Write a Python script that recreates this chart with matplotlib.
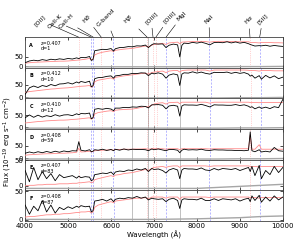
import numpy as np
import matplotlib.pyplot as plt

# observed wavelength grid (Angstrom)
wave = [4000, 4100, 4200, 4300, 4400, 4500, 4600, 4700, 4800, 4900,
        5000, 5100, 5200, 5250, 5300, 5400, 5500, 5540, 5580, 5620,
        5700, 5800, 5900, 6000, 6060, 6100, 6200, 6300, 6400, 6500,
        6600, 6700, 6800, 6870, 6950, 7000, 7100, 7200, 7280, 7350,
        7450, 7550, 7600, 7650, 7700, 7800, 7900, 8000, 8100, 8200,
        8300, 8400, 8500, 8600, 8700, 8800, 8900, 9000, 9100, 9200,
        9240, 9280, 9350, 9450, 9500, 9600, 9700, 9800, 9900, 10000]

flux_a = [18, 27, 31, 28, 34, 30, 36, 33, 38, 35,
          40, 37, 43, 39, 45, 44, 50, 30, 34, 80,
          83, 87, 86, 91, 78, 90, 96, 97, 101, 100,
          105, 104, 109, 96, 111, 116, 114, 115, 96, 108,
          114, 110, 48, 108, 119, 117, 123, 119, 124, 118,
          110, 122, 123, 121, 126, 120, 125, 119, 123, 116,
          112, 109, 104, 106, 105, 108, 103, 107, 104, 102]
model_a = [16, 18, 20, 21, 22, 23, 24, 25, 26, 26,
           27, 29, 31, 32, 33, 36, 40, 32, 36, 58,
           66, 72, 76, 80, 76, 82, 85, 88, 90, 92,
           96, 100, 104, 100, 108, 112, 115, 118, 112, 120,
           122, 124, 116, 124, 125, 126, 127, 127, 128, 127,
           124, 127, 128, 128, 128, 127, 127, 126, 126, 126,
           123, 122, 122, 120, 122, 122, 122, 121, 121, 120]

flux_b = [12, 38, 45, 39, 47, 43, 51, 46, 53, 54,
          58, 53, 61, 57, 63, 59, 64, 42, 46, 74,
          78, 79, 83, 85, 76, 85, 87, 91, 91, 95,
          94, 97, 96, 86, 96, 93, 97, 92, 76, 88,
          93, 89, 47, 92, 97, 96, 101, 96, 100, 95,
          92, 99, 98, 98, 100, 95, 99, 95, 98, 92,
          84, 88, 76, 86, 72, 87, 77, 85, 74, 80]
model_b = [20, 23, 25, 27, 29, 31, 33, 34, 36, 37,
           38, 40, 42, 43, 44, 45, 47, 40, 44, 62,
           68, 71, 74, 77, 72, 79, 82, 85, 87, 89,
           92, 94, 96, 92, 98, 100, 102, 104, 98, 104,
           106, 106, 100, 106, 107, 108, 108, 108, 108, 108,
           104, 108, 108, 108, 108, 108, 108, 108, 108, 107,
           106, 106, 106, 104, 106, 106, 106, 105, 105, 105]

flux_c = [40, 52, 42, 51, 43, 49, 45, 53, 47, 52,
          53, 49, 57, 53, 58, 57, 60, 36, 40, 76,
          79, 76, 80, 77, 70, 81, 81, 84, 83, 86,
          85, 89, 88, 82, 95, 95, 96, 93, 78, 90,
          93, 89, 47, 90, 95, 94, 94, 93, 97, 92,
          86, 95, 94, 94, 93, 93, 96, 92, 95, 89,
          84, 87, 78, 86, 80, 85, 79, 87, 83, 118]
model_c = [18, 20, 22, 24, 25, 27, 28, 29, 30, 30,
           31, 33, 34, 35, 36, 38, 40, 34, 38, 56,
           62, 65, 68, 70, 66, 72, 74, 75, 76, 77,
           80, 84, 88, 86, 94, 98, 102, 104, 98, 104,
           105, 106, 100, 106, 106, 106, 106, 106, 106, 106,
           102, 106, 106, 106, 106, 106, 106, 106, 106, 106,
           105, 105, 105, 104, 105, 105, 105, 105, 105, 105]

flux_d = [20, 25, 21, 26, 22, 27, 23, 28, 24, 29,
          26, 30, 29, 66, 32, 29, 34, 26, 28, 34,
          32, 36, 31, 35, 30, 36, 32, 37, 33, 36,
          35, 35, 34, 30, 37, 34, 37, 33, 30, 35,
          35, 32, 22, 32, 36, 33, 34, 33, 36, 32,
          31, 34, 33, 33, 32, 32, 31, 31, 30, 32,
          105, 30, 26, 34, 25, 28, 25, 43, 30, 28]
model_d = [12, 14, 15, 16, 17, 18, 18, 19, 20, 20,
           21, 22, 24, 40, 25, 26, 28, 25, 27, 30,
           31, 32, 33, 34, 32, 35, 35, 36, 36, 36,
           37, 37, 38, 36, 38, 38, 38, 38, 36, 38,
           38, 38, 34, 38, 38, 38, 38, 38, 38, 38,
           37, 38, 38, 38, 38, 38, 38, 38, 38, 38,
           92, 36, 36, 54, 36, 36, 36, 36, 36, 36]

flux_e = [30, 8, 36, 12, 28, 14, 24, 10, 22, 16,
          18, 20, 15, 19, 16, 18, 17, 10, 12, 22,
          23, 25, 24, 27, 22, 27, 29, 28, 31, 30,
          33, 31, 34, 28, 34, 32, 33, 30, 25, 31,
          34, 31, 14, 31, 34, 33, 33, 32, 35, 31,
          30, 34, 31, 34, 33, 32, 34, 30, 33, 36,
          28, 38, 20, 40, 14, 30, 22, 38, 26, 36]
model_e = [0, 1, 1, 2, 2, 3, 3, 3, 4, 4,
           4, 5, 5, 6, 6, 7, 8, 6, 7, 12,
           14, 16, 18, 20, 18, 21, 22, 24, 25, 26,
           28, 30, 32, 30, 34, 36, 37, 38, 36, 38,
           39, 39, 36, 39, 39, 39, 39, 39, 39, 39,
           38, 39, 39, 39, 39, 39, 39, 39, 39, 39,
           38, 38, 38, 37, 38, 38, 38, 38, 38, 38]

flux_f = [26, 10, 24, 16, 34, 14, 26, 12, 22, 18,
          23, 20, 24, 22, 25, 23, 24, 14, 16, 33,
          34, 36, 33, 37, 32, 36, 38, 37, 39, 38,
          41, 38, 40, 35, 38, 37, 36, 37, 32, 36,
          38, 34, 20, 35, 37, 36, 36, 35, 38, 34,
          34, 37, 34, 37, 36, 35, 37, 33, 36, 38,
          32, 42, 34, 43, 31, 40, 33, 42, 35, 40]
model_f = [5, 6, 6, 7, 8, 9, 9, 10, 10, 11,
           11, 12, 13, 13, 14, 14, 15, 12, 14, 22,
           26, 28, 30, 32, 30, 33, 34, 35, 36, 37,
           38, 38, 39, 37, 40, 40, 40, 40, 38, 40,
           40, 40, 36, 40, 40, 40, 40, 40, 40, 40,
           39, 40, 40, 40, 40, 40, 40, 40, 40, 40,
           39, 39, 39, 38, 39, 39, 39, 39, 39, 39]

# error spectra on a coarse grid
noise_wave = [4000, 5000, 6000, 7000, 8000, 8500, 9000, 9500, 10000]
noise_a = [-3, -3, -3, -3, -3, -3, -2, -2, -1]
noise_b = [-2, -2, -2, -2, -2, -2, -1, -1, 0]
noise_c = [-4, -4, -4, -4, -4, -4, -3, -3, -2]
noise_d = [-3, -3, -3, -3, -3, -3, -2, -2, -1]
noise_e = [-5, -5, -5, -5, -5, -3, -1, 1, 3]
noise_f = [1, 1, 1, 1, 2, 3, 4, 6, 7]

panels = ['A', 'B', 'C', 'D', 'E', 'F']
redshifts = [0.407, 0.412, 0.410, 0.408, 0.407, 0.408]
dists = [1, 10, 12, 59, 83, 87]
ylims = [(-8, 150), (-4, 117), (-8, 122), (-6, 116), (-9, 51), (-2, 51.5)]

fluxes = [flux_a, flux_b, flux_c, flux_d, flux_e, flux_f]
models = [model_a, model_b, model_c, model_d, model_e, model_f]
noises = [noise_a, noise_b, noise_c, noise_d, noise_e, noise_f]

line_names = ['[OII]', 'CaII-K', 'CaII-H', r'H$\delta$', 'G-band', r'H$\beta$',
              '[OIII]', '[OIII]', 'MgI', 'NaI', r'H$\alpha$', '[SII]']
line_rest = [3727, 3934, 3969, 4102, 4304, 4861, 4959, 5007, 5175, 5893, 6563, 6724]
line_emis = [True, False, False, True, False, True, True, True, False, False, True, False]
# label positions above the top panel (x in Angstrom, y in axes fraction)
label_x = [4350, 4700, 4960, 5430, 5880, 6420, 6930, 7370, 7650, 8280, 9210, 9530]
label_y = [1.55, 1.52, 1.52, 1.62, 1.62, 1.58, 1.62, 1.65, 1.68, 1.58, 1.58, 1.58]

telluric = [6490, 6870, 7600]

plt.rcParams['font.size'] = 5
fig, axes = plt.subplots(6, 1, sharex=True, figsize=(2.99, 2.49), dpi=100)
fig.subplots_adjust(left=0.084, right=0.946, top=0.851, bottom=0.112, hspace=0)

for i, ax in enumerate(axes):
    z = redshifts[i]
    for lam in telluric:
        ax.axvline(lam, color='0.65', lw=0.5, zorder=1)
    for rest, emis in zip(line_rest, line_emis):
        if emis:
            ax.axvline(rest * (1 + z), color='red', ls=':', lw=0.5, alpha=0.35, zorder=1)
        else:
            ax.axvline(rest * (1 + z), color='blue', ls=(0, (3, 2)), lw=0.5, alpha=0.4, zorder=1)
    ax.plot(noise_wave, noises[i], color='0.65', lw=1.0, zorder=2)
    ax.plot(wave, models[i], color='#ff8a8a', lw=0.6, zorder=3)
    ax.plot(wave, fluxes[i], color='k', lw=0.6, zorder=4)
    ax.set_ylim(ylims[i])
    ax.set_yticks([0, 50])
    ax.set_xlim(4000, 10000)
    ax.set_xticks(np.arange(4000, 10001, 1000))
    ax.tick_params(direction='in', top=True, right=True, length=2, width=0.5,
                   pad=1.5, labelsize=5)
    for s in ax.spines.values():
        s.set_linewidth(0.6)
        s.set_color('0.25')
    ax.text(0.023, 0.74, panels[i], transform=ax.transAxes, fontsize=3.5,
            fontweight='bold', ha='center', va='center')
    ax.text(0.062, 0.80, 'z=%.3f' % z, transform=ax.transAxes, fontsize=3.5,
            ha='left', va='center')
    ax.text(0.062, 0.62, 'd=%d' % dists[i], transform=ax.transAxes, fontsize=3.5,
            ha='left', va='center')

top = axes[0]
tr = top.get_xaxis_transform()
for name, rest, lx, ly in zip(line_names, line_rest, label_x, label_y):
    top.annotate(name, xy=(rest * (1 + redshifts[0]), 1.0), xycoords=tr,
                 xytext=(lx, ly), textcoords=tr, rotation=45, fontsize=4.6,
                 ha='center', va='center', annotation_clip=False,
                 arrowprops=dict(arrowstyle='-', lw=0.4, color='k',
                                 shrinkA=0, shrinkB=0))

axes[-1].set_xlabel('Wavelength (Å)', fontsize=5, labelpad=1.5)
fig.text(0.027, 0.43, 'Flux (10$^{-19}$ erg s$^{-1}$ cm$^{-2}$)', rotation=90,
         ha='center', va='center', fontsize=5)

fig.savefig('out.png', dpi=100)
